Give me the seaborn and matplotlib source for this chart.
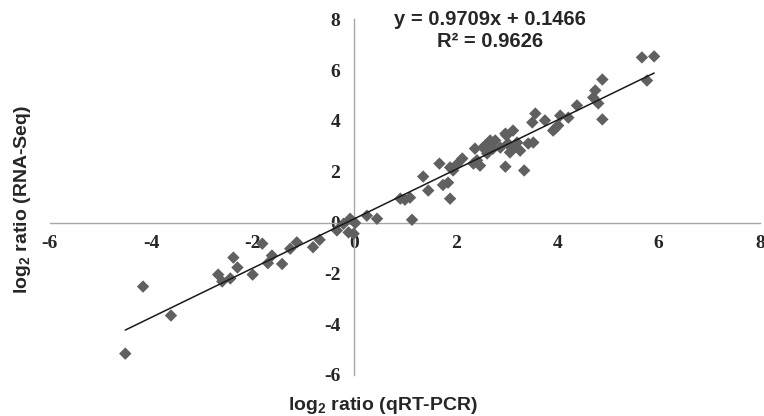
import numpy as np
import pandas as pd
import matplotlib
matplotlib.use('Agg')
import matplotlib.pyplot as plt
import seaborn as sns

# qRT-PCR vs RNA-Seq log2 ratios
qpcr = [-4.51, -4.16, -3.61, -2.68, -2.60, -2.44, -2.38, -2.30, -2.00, -1.81,
        -1.70, -1.62, -1.42, -1.26, -1.13, -0.81, -0.68, -0.34, -0.21, -0.08,
        -0.11, -0.01, 0.02, 0.25, 0.45, 0.91, 1.00, 1.10, 1.14, 1.36,
        1.46, 1.68, 1.75, 1.85, 1.89, 1.89, 1.95, 2.03, 2.13, 2.35,
        2.42, 2.38, 2.48, 2.54, 2.58, 2.62, 2.68, 2.73, 2.78, 2.88,
        2.98, 2.98, 3.00, 3.03, 3.07, 3.13, 3.11, 3.21, 3.27, 3.35,
        3.43, 3.53, 3.51, 3.57, 3.76, 3.92, 3.96, 4.02, 4.06, 4.22,
        4.39, 4.71, 4.75, 4.81, 4.89, 4.89, 5.67, 5.77, 5.91]
rnaseq = [-5.16, -2.52, -3.66, -2.05, -2.32, -2.20, -1.38, -1.77, -2.05, -0.83,
          -1.60, -1.30, -1.63, -1.03, -0.78, -0.97, -0.68, -0.31, -0.05, 0.15,
          -0.39, -0.44, -0.02, 0.27, 0.15, 0.94, 0.90, 0.98, 0.11, 1.81,
          1.26, 2.32, 1.48, 1.57, 0.94, 2.17, 2.05, 2.30, 2.52, 2.32,
          2.45, 2.91, 2.24, 2.95, 3.03, 2.72, 3.23, 2.90, 3.23, 2.95,
          2.20, 3.50, 3.43, 3.11, 2.76, 3.62, 2.91, 3.15, 2.83, 2.05,
          3.11, 3.15, 3.94, 4.29, 4.02, 3.62, 3.70, 3.82, 4.21, 4.13,
          4.61, 4.92, 5.20, 4.69, 5.63, 4.06, 6.50, 5.59, 6.54]

slope = 0.9709
intercept = 0.1466
r2 = 0.9626
ticks = [-6, -4, -2, 0, 2, 4, 6, 8]
tick_labels = ['-6', '-4', '-2', '0', '2', '4', '6', '8']

df = pd.DataFrame({'qpcr': qpcr, 'rnaseq': rnaseq})
line_x = np.array([min(qpcr), max(qpcr)])
line_df = pd.DataFrame({'x': line_x, 'y': slope * line_x + intercept})

sns.set_style('white')
plt.rcParams['font.family'] = ['Liberation Sans', 'DejaVu Sans']
plt.rcParams['axes.unicode_minus'] = False
plt.rcParams['mathtext.fontset'] = 'custom'
plt.rcParams['mathtext.rm'] = 'Liberation Sans:bold'
plt.rcParams['mathtext.it'] = 'Liberation Sans:bold'
plt.rcParams['mathtext.bf'] = 'Liberation Sans:bold'

fig = plt.figure(figsize=(7.64, 4.16), dpi=100)
ax = fig.add_axes([0.065, 0.0986, 0.93, 0.855])

sns.scatterplot(data=df, x='qpcr', y='rnaseq', marker='D', s=40,
                color='#606060', edgecolor='none', ax=ax, zorder=3)
sns.lineplot(data=line_df, x='x', y='y', color='#1a1a1a', linewidth=1.1,
             ax=ax, zorder=4)

# spines through the origin (do this before styling ticks, it resets them)
for side in ['top', 'right']:
    ax.spines[side].set_visible(False)
for side in ['left', 'bottom']:
    ax.spines[side].set_position('zero')
    ax.spines[side].set_color('#a8a8a8')
    ax.spines[side].set_linewidth(1.0)

ax.set_xlim(-6, 8)
ax.set_ylim(-6, 8)
ax.set_xticks(ticks, labels=tick_labels, fontfamily='Liberation Serif',
              fontweight='bold', fontsize=14)
ax.set_yticks(ticks, labels=tick_labels, fontfamily='Liberation Serif',
              fontweight='bold', fontsize=14)

ax.tick_params(axis='both', direction='out', length=4, width=1, color='#a8a8a8')
ax.tick_params(axis='x', pad=5)
ax.tick_params(axis='y', pad=6)

ax.set_xlabel('')
ax.set_ylabel('')
fig.text(0.502, 0.026, r'log$_2$ ratio (qRT-PCR)', ha='center', va='center',
         fontsize=14, fontweight='bold')
fig.text(0.03, 0.52, r'log$_2$ ratio (RNA-Seq)', ha='center', va='center',
         rotation=90, fontsize=14, fontweight='bold')

fig.text(0.641, 0.975, f'y = {slope}x + {intercept}\nR² = {r2}',
         ha='center', va='top', fontsize=14.5, fontweight='bold', linespacing=1.2)

plt.savefig('out.png', dpi=100)
